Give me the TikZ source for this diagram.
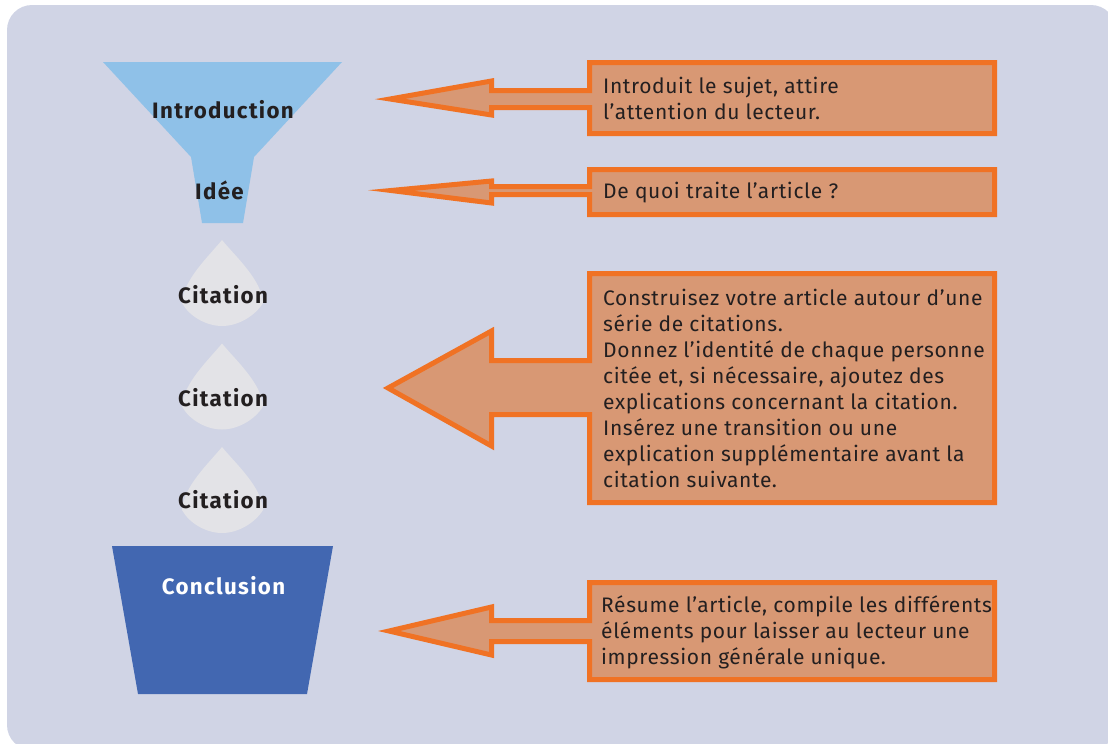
\documentclass[tikz,border=0pt]{standalone}
\usepackage{fontspec}
\setmainfont{Fira Sans}
\newfontfamily\calfont[LetterSpace=3]{Fira Sans}
\newfontfamily\labfont[LetterSpace=6]{Fira Sans}
\definecolor{bgc}{HTML}{D0D4E5}
\definecolor{funnelc}{HTML}{8FC1E8}
\definecolor{dropc}{HTML}{E3E3E7}
\definecolor{conclc}{HTML}{4267B1}
\definecolor{orangec}{HTML}{F07224}
\definecolor{fillc}{HTML}{D89874}
\definecolor{txtc}{HTML}{231F20}
\tikzset{
  callout/.style={draw=orangec, fill=fillc, line width=5pt, line join=miter, miter limit=20},
  calltext/.style={anchor=base west, align=left, inner sep=0pt, text=txtc, font=\calfont\fontsize{21}{26}\selectfont},
  label/.style={anchor=base, inner sep=0pt, text=txtc, font=\labfont\fontsize{22.3}{24}\selectfont\bfseries},
}
\newcommand{\mycallout}[8]{% top, bottom, shafttop, shaftbottom, headtop, headbottom, tipx, tipy
  \draw[callout] (589.5,#1) -- (994.5,#1) -- (994.5,#2) -- (589.5,#2) -- (589.5,#4) -- (491.5,#4) -- (491.5,#6) -- (#7,#8) -- (491.5,#5) -- (491.5,#3) -- (589.5,#3) -- cycle;}
\newcommand{\mydrop}[1]{% top y
  \fill[dropc] (222,#1) .. controls (235,#1+16) and (262,#1+40) .. (263,#1+63)
    .. controls (255,#1+76) and (238,#1+86) .. (222,#1+86)
    .. controls (206,#1+86) and (189,#1+76) .. (182,#1+63)
    .. controls (183,#1+40) and (209,#1+16) .. (222,#1) -- cycle;}
\begin{document}
\begin{tikzpicture}[x=1pt,y=-1pt]
\useasboundingbox (0,0) rectangle (1108,744);
\fill[bgc, rounded corners=25pt] (7,5) rectangle (1116,750);
% funnel
\fill[funnelc] (103,62) -- (342,62) -- (254,157) -- (243,223) -- (202,223) -- (191,157) -- cycle;
\mydrop{240}
\mydrop{343.5}
\mydrop{447}
\fill[conclc] (112,546) -- (333,546) -- (307,694) -- (138,694) -- cycle;
\node[label] (intro) at (223,118) {Introduction};
\node[label] (idee) at (219.5,199) {Idée};
\node[label] (cit1) at (223,303) {Citation};
\node[label] (cit2) at (223,406) {Citation};
\node[label] (cit3) at (223,508) {Citation};
\node[label, text=white] (concl) at (223.5,594) {Conclusion};
% callouts
\mycallout{62.5}{133.5}{90.5}{107.5}{81}{115}{390}{99}
\mycallout{169.5}{214.5}{186.5}{194.5}{181}{203}{391}{190.5}
\mycallout{273.5}{502.5}{360.5}{414.5}{331}{446}{388}{388}
\mycallout{582.5}{679.5}{620.5}{641.5}{607}{655}{389}{631}
\node[calltext] (t1) at (603,119) {Introduit le sujet, attire\\l’attention du lecteur.};
\node[calltext] (t2) at (603,198) {De quoi traite l’article ?};
\node[calltext] (t3) at (603,487) {Construisez votre article autour d’une\\série de citations.\\Donnez l’identité de chaque personne\\citée et, si nécessaire, ajoutez des\\explications concernant la citation.\\Insérez une transition ou une\\explication supplémentaire avant la\\citation suivante.};
\node[calltext] (t4) at (601,664) {Résume l’article, compile les différents\\éléments pour laisser au lecteur une\\impression générale unique.};
\end{tikzpicture}
\end{document}
